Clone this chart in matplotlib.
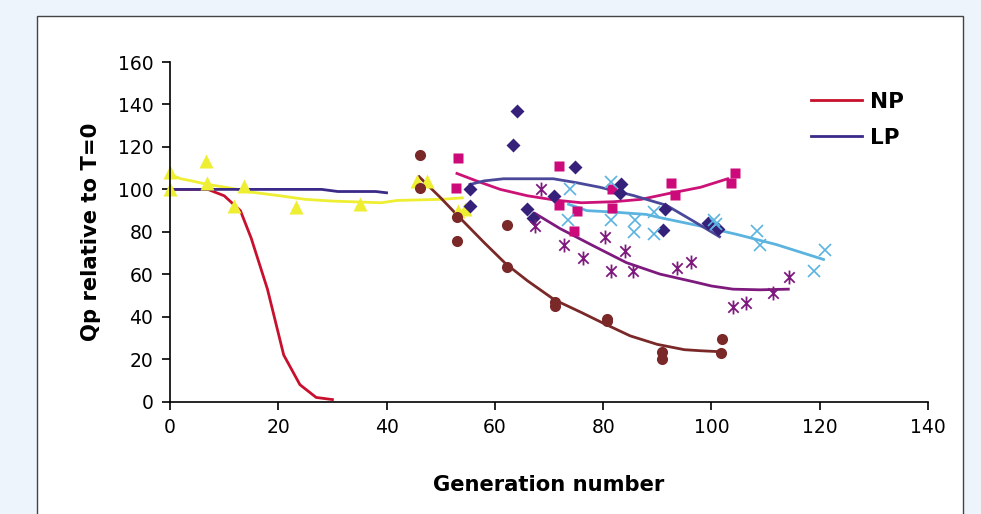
import numpy as np
import matplotlib
matplotlib.use("Agg")
from matplotlib import pyplot as plt
from matplotlib.patches import Rectangle
from matplotlib.path import Path

# fitted curves
np_x = [0, 3, 7, 10, 13, 15, 18, 21, 24, 27, 30]
np_y = [100, 100, 100, 97, 90, 77, 53, 22, 8, 2, 1]
lp_x = [0, 10, 20, 28, 31, 38, 40]
lp_y = [100, 100, 100, 100, 99, 99, 98.4]
yel_x = [0, 2, 4, 7, 11, 15, 20, 25, 30, 39, 42, 50, 54]
yel_y = [107, 105, 104, 102.3, 100.7, 98.7, 97.1, 95.3, 94.5, 93.7, 94.8, 95.3, 96]
brn_x = [46, 50, 53, 58, 62, 66, 71, 76, 80, 85, 90, 95, 98, 102]
brn_y = [106, 96, 88, 75, 65, 57, 48, 42, 37, 31, 27, 24.5, 24, 23.5]
mag_x = [53, 56.6, 61, 66, 71, 76, 82, 87, 92, 98, 103]
mag_y = [107.5, 104, 100, 97, 95, 93.7, 94.2, 95.3, 98, 101, 105]
lp2_x = [55.4, 58, 61.6, 70.8, 75, 79.4, 85.6, 91.7, 96.7, 101.5]
lp2_y = [102.3, 104, 105, 105, 103.2, 101, 97.1, 92.5, 85, 77.7]
lb_x = [73.6, 77, 82, 88, 90.5, 98, 104.7, 112, 120.7]
lb_y = [93, 90, 89.3, 88.2, 86.7, 82.7, 78.8, 74, 67]
pur_x = [67.4, 72, 78.2, 84.3, 90.5, 96.7, 100, 104, 109, 114.2]
pur_y = [88.7, 81.6, 73.4, 65.5, 60.1, 56.5, 54.5, 53, 52.7, 53]

# measured points
tri_x = [0, 0, 6.6, 6.9, 11.8, 13.6, 23.3, 35.1, 45.6, 47.4, 53.2, 54.4]
tri_y = [108, 100, 113.5, 103, 92, 101.5, 91.8, 93.2, 104, 104, 90, 90.6]
circ_x = [46.2, 46.2, 53, 53, 62.3, 62.3, 71.2, 71.2, 80.7, 80.7, 90.8, 90.8, 102, 101.8]
circ_y = [116, 100.7, 87, 75.7, 83, 63.6, 46.8, 45.2, 38.8, 37.9, 23.6, 20.3, 29.5, 22.8]
sq_x = [53.2, 52.8, 71.8, 71.8, 75.2, 74.6, 81.6, 81.6, 92.6, 93.3, 104.4, 103.7]
sq_y = [115, 100.6, 111, 92.6, 90, 80.5, 100, 91.4, 103, 97.2, 107.7, 103.1]
dia_x = [55.5, 55.5, 63.4, 64, 65.9, 67, 71, 74.8, 83.3, 83.1, 91.4, 91, 99.4, 101.3]
dia_y = [100.3, 92.1, 121, 137, 90.8, 86.7, 97.1, 110.6, 102.6, 98.4, 90.6, 80.9, 84, 81.2]
x_x = [73.9, 73.6, 81.5, 81.5, 85.9, 85.7, 89.4, 89.4, 100.5, 100.9, 108.4, 109, 121, 119]
x_y = [100.3, 85.7, 103.4, 85.8, 85.8, 79.9, 89.5, 79.2, 85.6, 83.5, 80.4, 73.8, 71.3, 61.6]
ast_x = [68.5, 67.4, 72.8, 76.3, 80.4, 81.4, 84, 85.6, 93.7, 96.2, 103.9, 106.4, 111.4, 114.3]
ast_y = [100.3, 82.7, 73.6, 67.8, 77.6, 61.6, 71, 61.6, 63.2, 65.7, 44.7, 46.5, 51, 58.5]

# excel-like asterisk: vertical bar + X
ast = Path([(0, -1), (0, 1), (-0.75, -0.75), (0.75, 0.75), (-0.75, 0.75), (0.75, -0.75)],
           [Path.MOVETO, Path.LINETO, Path.MOVETO, Path.LINETO, Path.MOVETO, Path.LINETO])

fig = plt.figure(figsize=(9.81, 5.14), dpi=100, facecolor="#EDF4FC")
fig.patches.append(Rectangle((37 / 981, -0.05), 926 / 981, 1.05 - 16 / 514,
                             transform=fig.transFigure, facecolor="white",
                             edgecolor="#444444", linewidth=1, zorder=-10))
ax = fig.add_axes([170 / 981, 1 - 401.7 / 514, 758 / 981, 339.7 / 514])
ax.set_facecolor("none")

lw = 2.0
ax.plot(yel_x, yel_y, color="#EEEE33", lw=lw)
ax.plot(np_x, np_y, color="#C8102E", lw=lw, label="NP")
ax.plot(lp_x, lp_y, color="#3B2A88", lw=lw, label="LP")
ax.plot(brn_x, brn_y, color="#7A2828", lw=lw)
ax.plot(mag_x, mag_y, color="#CC1177", lw=lw)
ax.plot(lb_x, lb_y, color="#5BB4E0", lw=lw)
ax.plot(lp2_x, lp2_y, color="#4A4898", lw=lw)
ax.plot(pur_x, pur_y, color="#7E1A7E", lw=lw)

ax.plot(tri_x, tri_y, "^", color="#EEEE33", ms=10, mec="none", clip_on=False)
ax.plot(circ_x, circ_y, "o", color="#7A2828", ms=8, mec="none")
ax.plot(sq_x, sq_y, "s", color="#CC0A7A", ms=7.5, mec="none")
ax.plot(dia_x, dia_y, "D", color="#35207A", ms=7, mec="none")
ax.plot(x_x, x_y, "x", color="#5BB4E0", ms=9, mew=1.2, ls="none")
ax.plot(ast_x, ast_y, ls="none", marker=ast, color="#7E1A7E", ms=10, mew=1.3)

ax.set_xlim(0, 140)
ax.set_ylim(0, 160)
ax.set_xticks(np.arange(0, 141, 20))
ax.set_yticks(np.arange(0, 161, 20))
for s in ["top", "right"]:
    ax.spines[s].set_visible(False)
for s in ["left", "bottom"]:
    ax.spines[s].set_linewidth(1.2)
ax.tick_params(direction="out", length=6, width=1.2, labelsize=13.5, pad=6)
ax.set_xlabel("Generation number", fontsize=15.2, fontweight="bold", labelpad=27)
ax.set_ylabel("Qp relative to T=0", fontsize=15.2, fontweight="bold", labelpad=12)

handles = ax.get_legend_handles_labels()
leg = ax.legend(*handles, loc="upper left", bbox_to_anchor=(792 / 981, 1 - 72.5 / 514),
                bbox_transform=fig.transFigure, frameon=False, handlelength=2.37,
                labelspacing=0.73, prop={"weight": "bold", "size": 15.5}, handletextpad=0.35)

fig.savefig("out.png", dpi=100, facecolor=fig.get_facecolor())
